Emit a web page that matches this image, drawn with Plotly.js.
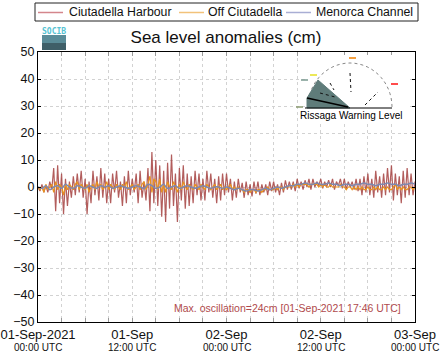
<!DOCTYPE html>
<html><head><meta charset="utf-8">
<script src="https://cdn.plot.ly/plotly-3.0.1.min.js"></script>
<style>html,body{margin:0;padding:0;background:#fff;}#chart{width:444px;height:359px;}</style>
</head><body><div id="chart"></div>
<script>
// ---- data ----
const seriesNames = ['Ciutadella Harbour', 'Off Ciutadella', 'Menorca Channel'];
const startTime = '2021-09-01T00:00:00Z';
const harbourStepMin = 15;
const offStepMin = 15;
const channelStepMin = 30;
// Ciutadella Harbour, cm, every 15 min
const harbour = [
 0,-1.5,1,-2, 0.5,-2,2,-1, 7,-9,8,-6, 5,-10,3,-7, 2,-4,4,-3, 5,-2,6,-4, 3,-10,2,-6, 6,-3,4,-5,
 7,-4,5,-6, 3,-6,5,-2, 6,-4,2,-7, 4,-6,6,-3, 3,-2,5,-6, 6,-4,2,-5, 7,-9,13,-6, 10,-7,8,-11,
 6,-13,9,-8, 12,-7,5,-13, 7,-5,8,-8, 5,-7,4,-6, 6,-3,5,-5, 3,-5,6,-2, 5,-4,3,-6, 4,-5,5,-3,
 5,-2,3,-5, 2,-4,3,-2, 1.5,-4,2,-3, 1,-3.5,2,-2.5, 2,-3,1,-2, 1,-3,2,-1.5, 2,-2,1,-3, 1.5,-2,2.5,-1,
 2,-1,2,-1.5, 3,-0.5,2,-1, 2.5,0,3,-1, 3,0,2,0.5, 3,-0.5,2,0, 2.5,0,3,-1, 2,0.5,3,-0.5, 3,-1,2,0,
 2,-1,3,-1.5, 3,-3,4,-2, 5,-3,3,-4, 6,-2,4,-4, 5,-3,7,-2, 8,-5,5,-3, 4,-6,6,-4, 7,-3,5,-3, 2
];
// Off Ciutadella, cm, every 15 min
const offCiutadella = [
 0,-1,0,-2, 1,-1,0,1, -2,2,-1,1, 0,-3,1,-1, 1,0,-1,1, 2,-1,1,0, -1,1,-2,0, 1,-1,2,0,
 1,-1,0,2, -1,1,0,-1, 1,0,-1,1, 0,2,-1,0, 1,-1,0,1, -1,1,2,-1, 1,4,-2,3, 2,-1,3,-2,
 1,-2,2,0, -1,2,0,-2, 1,-1,2,0, -1,1,0,-1, 1,0,-1,1, 0,-1,1,0, -1,0,1,-1, 0,1,-1,0,
 -1,0,1,-1, 0,-1,0,-1, -1,-2,-1,-1, -2,-1,-1,-2, -1,-1,-2,-1, -1,0,-1,-1, -1,0,-1,0, 0,-1,0,0,
 0,0,1,0, 1,0,1,1, 1,1,0,1, 1,1,1,0, 1,0,1,0, 0,1,0,0, 0,0,1,0, 0,-1,0,0,
 -1,0,-1,0, -1,0,-1,-1, 0,-1,-1,0, -1,0,-1,-1, 0,-1,0,-1, -1,0,1,-1, 0,-1,0,-1, -1,0,0,-1, 0
];
// Menorca Channel, cm, every 30 min
const menorcaChannel = [
 0,-0.5,0.5,-1,0,0.5,-0.5,1,0,-0.5,0.5,0,-0.5,0.5,0,-0.5,0.5,0,0.5,-0.5,0,0.5,0,-0.5,0,
 0.5,0,-0.5,1,0.5,-0.5,0,1,-0.5,0,0.5,-0.5,0,0.5,0,-0.5,0,0.5,0,-0.5,0,0,-0.5,0,
 -0.5,-1,-0.5,-1,-1.5,-1,-1,-1.5,-1,-0.5,-1,-0.5,0,-0.5,0,0.5,0.5,1,1,1.5,1,1,1.5,1,
 1,1.5,1,1,0.5,1,1,0.5,1,1,1.5,1,1,0.5,1,1,1.5,1,1,0.5,1,1,1.5,1
];
const majorTickHours = [0, 12, 24, 36, 48];
const majorTickTop = ['01-Sep-2021', '01-Sep', '02-Sep', '02-Sep', '03-Sep'];
const majorTickBottom = ['00:00 UTC', '12:00 UTC', '00:00 UTC', '12:00 UTC', '00:00 UTC'];
const gridStepHours = 3;
const maxOscText = 'Max. oscillation=24cm [01-Sep-2021 17:46 UTC]';
const titleText = 'Sea level anomalies (cm)';

// ---- helpers ----
const t0 = Date.parse(startTime);
function timesFor(arr, stepMin){ return arr.map((_, i) => new Date(t0 + i*stepMin*60000).toISOString().replace('Z','')); }
function hourIso(h){ return new Date(t0 + h*3600000).toISOString().replace('Z',''); }

const W=444, H=359, L=38, R=415, T=52, B=322;
const px = x => (x-L)/(R-L);
const py = y => (B-y)/(B-T);

const FONT = 'Liberation Sans, Arial, Helvetica, sans-serif';
const lineColors = ['#a5413f', '#e8921e', '#7e88ae'];
const legendColors = ['#d4868c', '#f2c27a', '#a9aed4'];

const traces = [
 {x: timesFor(harbour, harbourStepMin), y: harbour, name: seriesNames[0], type:'scatter', mode:'lines', line:{color:lineColors[0], width:1.2}, opacity:0.85},
 {x: timesFor(offCiutadella, offStepMin), y: offCiutadella, name: seriesNames[1], type:'scatter', mode:'lines', line:{color:lineColors[1], width:1.2}},
 {x: timesFor(menorcaChannel, channelStepMin), y: menorcaChannel, name: seriesNames[2], type:'scatter', mode:'lines', line:{color:lineColors[2], width:1.5, shape:'spline'}}
];

// tick values every 3 h
const tickvals = [], ticktext = [];
for (let h=0; h<=48; h+=gridStepHours){
  tickvals.push(hourIso(h));
  const k = majorTickHours.indexOf(h);
  ticktext.push(k>=0 ? majorTickTop[k] : '');
}

const shapes = [], annotations = [];
// second line of the date tick labels
majorTickHours.forEach((h, k) => annotations.push({xref:'x', yref:'paper', x:hourIso(h), y:py(347.5), xanchor:'center', yanchor:'middle', text:majorTickBottom[k], showarrow:false, font:{family:FONT, size:10, color:'#111'}}));

// custom legend
shapes.push({type:'rect', xref:'paper', yref:'paper', x0:px(35), x1:px(418), y0:py(3), y1:py(21), line:{color:'#222', width:1}, fillcolor:'rgba(0,0,0,0)'});
const legLineX = [38, 179, 286], legTextX = [67, 206, 314];
for (let i=0;i<3;i++){
  shapes.push({type:'line', xref:'paper', yref:'paper', x0:px(legLineX[i]), x1:px(legLineX[i]+25), y0:py(12.5), y1:py(12.5), line:{color:legendColors[i], width:1.5}});
  annotations.push({xref:'paper', yref:'paper', x:px(legTextX[i]), y:py(12.5), xanchor:'left', yanchor:'middle', text:seriesNames[i], showarrow:false, font:{family:FONT, size:12.3, color:'#111'}});
}
// SOCIB logo
annotations.push({xref:'paper', yref:'paper', x:px(54), y:py(31), xanchor:'center', yanchor:'middle', text:'<b>SOCIB</b>', showarrow:false, font:{family:'DejaVu Sans Mono, monospace', size:8, color:'#56c3d3'}});
shapes.push({type:'rect', xref:'paper', yref:'paper', x0:px(42), x1:px(66), y0:py(35), y1:py(50), line:{width:0}, fillcolor:'#5a8c98', layer:'above'});
shapes.push({type:'rect', xref:'paper', yref:'paper', x0:px(42), x1:px(66), y0:py(43), y1:py(50), line:{width:0}, fillcolor:'#3f5f68', layer:'above'});

// gauge inset
shapes.push({type:'rect', xref:'paper', yref:'paper', x0:px(305), x1:px(410), y0:py(55), y1:py(123), line:{width:0}, fillcolor:'#ffffff', layer:'above'});
let arc = '';
for (let a=0; a<=180; a+=6){
  const r = a*Math.PI/180;
  const X = 350 + 42*Math.cos(Math.PI - r), Y = 107 - 44*Math.sin(Math.PI - r);
  arc += (a===0?'M':'L') + px(X).toFixed(4) + ',' + py(Y).toFixed(4);
}
shapes.push({type:'path', xref:'paper', yref:'paper', path:arc, line:{color:'#888', width:1, dash:'dot'}, layer:'above'});
shapes.push({type:'path', xref:'paper', yref:'paper', path:`M${px(307)},${py(98)}L${px(318)},${py(80)}L${px(350)},${py(108)}L${px(307)},${py(108)}Z`, fillcolor:'#5f7c7a', line:{color:'#5f7c7a', width:1}, layer:'above'});
shapes.push({type:'line', xref:'paper', yref:'paper', x0:px(305), x1:px(392), y0:py(108), y1:py(108), line:{color:'#000', width:1}, layer:'above'});
shapes.push({type:'line', xref:'paper', yref:'paper', x0:px(307), x1:px(348), y0:py(98), y1:py(107), line:{color:'#000', width:1.5}, layer:'above'});
const dashes = [[320,93,335,97],[330,83,334,90],[350,73,351,92],[365,105,378,92]];
dashes.forEach(d => shapes.push({type:'line', xref:'paper', yref:'paper', x0:px(d[0]), x1:px(d[2]), y0:py(d[1]), y1:py(d[3]), line:{color:'#111', width:1, dash:'dot'}, layer:'above'}));
const marks = [[310,75,'#e6e020'],[349,58,'#f08000'],[391,84,'#ff1010'],[296,107,'#8a9a70'],[301,80,'#7a9a90']];
marks.forEach(m => shapes.push({type:'line', xref:'paper', yref:'paper', x0:px(m[0]), x1:px(m[0]+7), y0:py(m[1]), y1:py(m[1]), line:{color:m[2], width:1.5}, layer:'above'}));
annotations.push({xref:'paper', yref:'paper', x:px(351), y:py(115.5), xanchor:'center', yanchor:'middle', text:'Rissaga Warning Level', showarrow:false, font:{family:FONT, size:10, color:'#000'}});

// max oscillation
annotations.push({xref:'paper', yref:'paper', x:px(287), y:py(308), xanchor:'center', yanchor:'middle', text:maxOscText, showarrow:false, font:{family:FONT, size:10.5, color:'#b04a4c'}});

const layout = {
  width:W, height:H,
  margin:{l:L, r:W-R, t:T, b:H-B, pad:0},
  paper_bgcolor:'#fff', plot_bgcolor:'#fff',
  showlegend:false,
  font:{family:FONT, color:'#111'},
  title:{text:titleText, font:{family:FONT, size:17, color:'#111'}, x:226/W, xanchor:'center', y:1-37/H, yanchor:'middle'},
  xaxis:{type:'date', range:[hourIso(0), hourIso(48)], tickmode:'array', tickvals:tickvals, ticktext:ticktext,
    tickfont:{family:FONT, size:13, color:'#111'}, showgrid:true, gridcolor:'#d2d2d2', griddash:'dot', gridwidth:1,
    ticks:'inside', ticklen:4, tickcolor:'#999', showline:true, linecolor:'#000', linewidth:1, mirror:'ticks', zeroline:false, tickangle:0},
  yaxis:{range:[-50,50], dtick:10, tick0:0, tickfont:{family:FONT, size:12.5, color:'#111'}, showgrid:true, gridcolor:'#d2d2d2', griddash:'dot',
    ticks:'inside', ticklen:3, tickcolor:'#000', showline:true, linecolor:'#000', linewidth:1, mirror:'ticks', zeroline:false},
  shapes:shapes, annotations:annotations
};
Plotly.newPlot('chart', traces, layout, {staticPlot:true, displayModeBar:false});
</script></body></html>
